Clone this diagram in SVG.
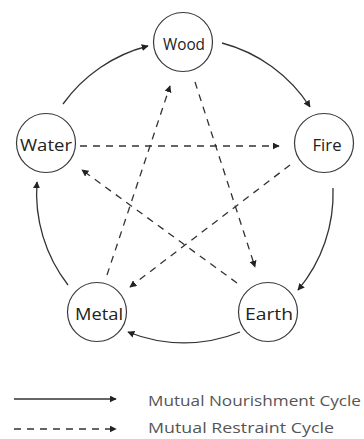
<svg xmlns="http://www.w3.org/2000/svg" width="364" height="439" viewBox="0 0 364 439">
<style>
.node circle{fill:#fff;stroke:#3a3a3a;stroke-width:1.2}
.node text{font-family:"Open Sans","Liberation Sans",sans-serif;font-size:16.5px;fill:#222;text-anchor:middle}
.solid{fill:none;stroke:#333;stroke-width:1.3;marker-end:url(#ah)}
.dash{fill:none;stroke:#333;stroke-width:1.3;stroke-dasharray:7 6;marker-end:url(#ah)}
.leg{font-family:"Open Sans","Liberation Sans",sans-serif;font-size:14.5px;fill:#555}
</style>
<defs>
<marker id="ah" viewBox="0 0 10 10" refX="9" refY="5" markerWidth="7" markerHeight="7" markerUnits="userSpaceOnUse" orient="auto">
<path d="M0,0 L10,5 L0,10 Z" fill="#222"/>
</marker>
</defs>
<rect width="364" height="439" fill="#fff"/>
<g id="connectors">
<path class="solid" d="M63,104 A150,150 0 0 1 148,46"/>
<path class="solid" d="M222,43 A150,150 0 0 1 310,107"/>
<path class="solid" d="M333,188 A150,150 0 0 1 298,290"/>
<path class="solid" d="M240,332 A150,150 0 0 1 128,332"/>
<path class="solid" d="M68,285 A150,150 0 0 1 37,182"/>
<path class="dash" d="M195,82 L255,267"/>
<path class="dash" d="M80,146 L279,146"/>
<path class="dash" d="M290,165 L130,287"/>
<path class="dash" d="M237,283 L82,170"/>
<path class="dash" d="M107,275 L170,86"/>
</g>
<g id="node-wood" class="node"><circle cx="183" cy="42" r="29.5"/><text x="184" y="50" textLength="42" lengthAdjust="spacingAndGlyphs">Wood</text></g>
<g id="node-water" class="node"><circle cx="46" cy="143" r="29.5"/><text x="46" y="151" textLength="52" lengthAdjust="spacingAndGlyphs">Water</text></g>
<g id="node-fire" class="node"><circle cx="324" cy="143" r="29.5"/><text x="327" y="151" textLength="29" lengthAdjust="spacingAndGlyphs">Fire</text></g>
<g id="node-metal" class="node"><circle cx="97" cy="312" r="29.5"/><text x="99" y="320" textLength="48" lengthAdjust="spacingAndGlyphs">Metal</text></g>
<g id="node-earth" class="node"><circle cx="268" cy="312" r="29.5"/><text x="269" y="320" textLength="48" lengthAdjust="spacingAndGlyphs">Earth</text></g>
<g id="legend">
<path class="solid" d="M14,399 L116,399"/>
<path class="dash" d="M14,429 L116,429"/>
<text class="leg" x="148" y="406" textLength="213" lengthAdjust="spacingAndGlyphs">Mutual Nourishment Cycle</text>
<text class="leg" x="148" y="433" textLength="186" lengthAdjust="spacingAndGlyphs">Mutual Restraint Cycle</text>
</g>
</svg>
